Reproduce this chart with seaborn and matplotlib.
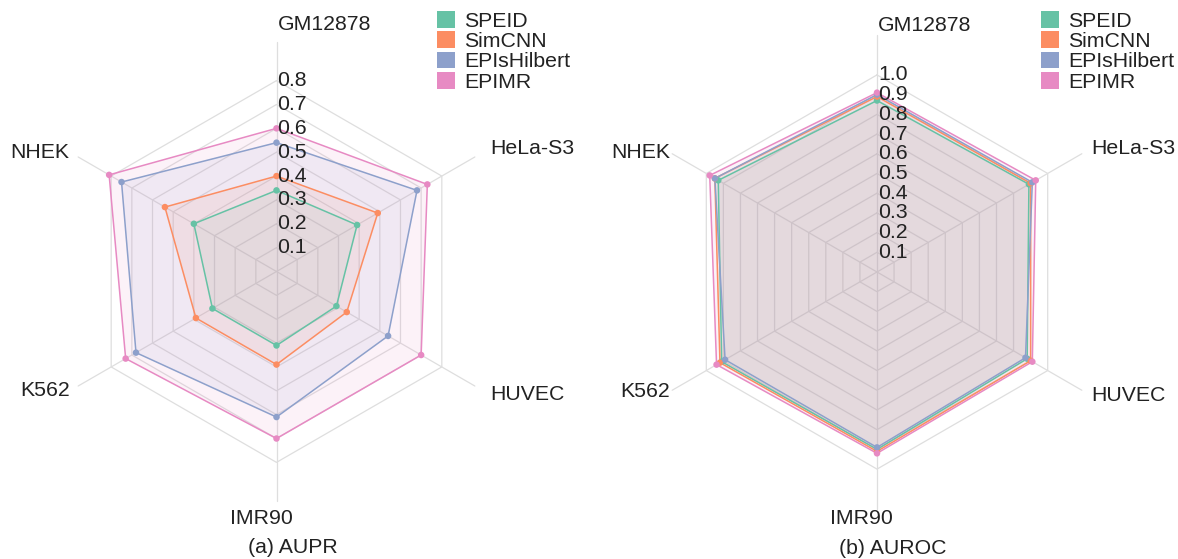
import numpy as np
import pandas as pd
import matplotlib
matplotlib.use("Agg")
import matplotlib.pyplot as plt
import seaborn as sns
from matplotlib.patches import Patch

# ---- data -------------------------------------------------------------
cell_lines = ["GM12878", "HeLa-S3", "HUVEC", "IMR90", "K562", "NHEK"]
models = ["SPEID", "SimCNN", "EPIsHilbert", "EPIMR"]

aupr_speid = [0.34, 0.39, 0.29, 0.31, 0.31, 0.40]
aupr_simcnn = [0.40, 0.49, 0.34, 0.39, 0.39, 0.54]
aupr_epishilbert = [0.54, 0.68, 0.54, 0.61, 0.68, 0.75]
aupr_epimr = [0.60, 0.73, 0.70, 0.70, 0.73, 0.81]

auroc_speid = [0.87, 0.89, 0.88, 0.90, 0.91, 0.93]
auroc_simcnn = [0.89, 0.90, 0.90, 0.91, 0.92, 0.95]
auroc_epishilbert = [0.90, 0.91, 0.87, 0.89, 0.89, 0.95]
auroc_epimr = [0.91, 0.93, 0.91, 0.92, 0.94, 0.98]

aupr_ticks = [0.1, 0.2, 0.3, 0.4, 0.5, 0.6, 0.7, 0.8]
auroc_ticks = [0.1, 0.2, 0.3, 0.4, 0.5, 0.6, 0.7, 0.8, 0.9, 1.0]

panel_titles = ["(a) AUPR", "(b) AUROC"]

# ---- style ------------------------------------------------------------
sns.set_theme(style="white")
plt.rcParams["font.family"] = ["Liberation Sans", "DejaVu Sans"]
palette = dict(zip(models, sns.color_palette("Set2", 4)))
TEXT = "#222222"
GRID = "#dedede"
FS = 15.3

W, H = 1178, 559
fig = plt.figure(figsize=(W / 100, H / 100), dpi=100)
fig.patch.set_facecolor("white")

angles = np.deg2rad(90 - 60 * np.arange(len(cell_lines)))


def make_axes(cx, cy, ppu, half):
    """Square axes whose origin sits at pixel (cx, cy), ppu pixels per unit."""
    hp = half * ppu
    ax = fig.add_axes([(cx - hp) / W, (H - (cy + hp)) / H, 2 * hp / W, 2 * hp / H])
    ax.set_axis_off()
    return ax, half


def radar(ax, half, ppu, ticks, series, title, legend_xy):
    rmax = ticks[-1]
    ca, sa = np.cos(angles), np.sin(angles)
    closed = lambda v: np.append(v, v[0])

    # hexagonal grid rings
    for t in ticks:
        ax.plot(closed(t * ca), closed(t * sa), color=GRID, lw=0.9, zorder=1)
    # spokes
    spoke = 1.2 * rmax
    for c, s in zip(ca, sa):
        ax.plot([0, spoke * c], [0, spoke * s], color=GRID, lw=0.9, zorder=1)

    # series polygons
    rows = []
    for m, vals in zip(models, series):
        v = np.asarray(vals)
        x, y = v * ca, v * sa
        ax.fill(closed(x), closed(y), color=palette[m], alpha=0.11, lw=0, zorder=2)
        ax.plot(closed(x), closed(y), color=palette[m], lw=1.1, zorder=3)
        for cl, xi, yi in zip(cell_lines, x, y):
            rows.append({"model": m, "cell": cl, "x": xi, "y": yi})
    df = pd.DataFrame(rows)
    sns.scatterplot(data=df, x="x", y="y", hue="model", palette=palette,
                    s=22, edgecolor="none", legend=False, zorder=4, ax=ax)

    # radial tick labels along the top spoke
    for t in ticks:
        ax.text(1 / ppu, t, f"{t:.1f}", ha="left", va="center",
                fontsize=FS, color=TEXT, zorder=6)

    # category labels
    r_right = 247 / ppu
    r_left = 239 / ppu
    ax.text(1 / ppu, 246.5 / ppu, cell_lines[0], ha="left", va="center",
            fontsize=FS, color=TEXT)
    for k in (1, 2):
        ax.text(r_right * ca[k], r_right * sa[k], cell_lines[k], ha="left",
                va="center", fontsize=FS, color=TEXT)
    ax.text(-15.5 / ppu, -246.5 / ppu, cell_lines[3], ha="center", va="center",
            fontsize=FS, color=TEXT)
    for k in (4, 5):
        ax.text(r_left * ca[k], r_left * sa[k], cell_lines[k], ha="right",
                va="center", fontsize=FS, color=TEXT)

    # panel caption
    ax.text(16 / ppu, -276 / ppu, title, ha="center", va="center",
            fontsize=FS, color=TEXT)

    handles = [Patch(facecolor=palette[m], edgecolor="none", label=m) for m in models]
    leg = ax.legend(handles=handles, loc="upper left",
                    bbox_to_anchor=(legend_xy[0] / W, 1 - legend_xy[1] / H),
                    bbox_transform=fig.transFigure, frameon=False, fontsize=FS,
                    handlelength=0.83, handleheight=0.83, handletextpad=0.45,
                    labelspacing=0.03, borderpad=0, borderaxespad=0)
    for txt in leg.get_texts():
        txt.set_color(TEXT)

    ax.set_xlim(-half, half)
    ax.set_ylim(-half, half)


# left panel: AUPR
ppu_a = 238.6
ax_a, half_a = make_axes(276.5, 271.5, ppu_a, 1.15)
radar(ax_a, half_a, ppu_a, aupr_ticks,
      [aupr_speid, aupr_simcnn, aupr_epishilbert, aupr_epimr],
      panel_titles[0], (437, 11))

# right panel: AUROC
ppu_b = 197.1
ax_b, half_b = make_axes(877, 272, ppu_b, 1.4)
radar(ax_b, half_b, ppu_b, auroc_ticks,
      [auroc_speid, auroc_simcnn, auroc_epishilbert, auroc_epimr],
      panel_titles[1], (1041, 11))

fig.savefig("out.png", dpi=100, facecolor="white")
